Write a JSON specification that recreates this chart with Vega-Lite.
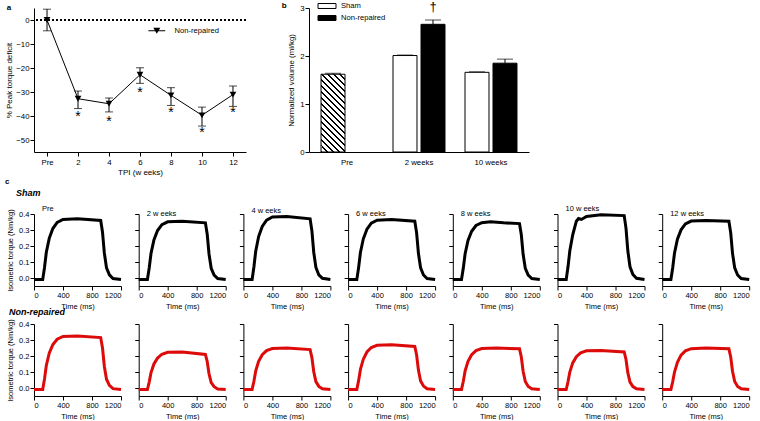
{
"$schema":"https://vega.github.io/schema/vega-lite/v6.json",
"padding":{"left":5,"top":1,"right":0,"bottom":0},
"background":"white",
"config":{
 "font":"Liberation Sans",
 "view":{"stroke":null},
 "axis":{"grid":false,"domainColor":"black","tickColor":"black","labelColor":"black","titleColor":"black","labelFontSize":7.5,"titleFontSize":7.5,"titleFontWeight":"normal","tickSize":4,"labelPadding":1,"titlePadding":4},
 "title":{"color":"black","fontSize":7.5,"fontWeight":"normal","anchor":"start"},
 "legend":{"labelColor":"black","labelFontSize":7.6}
},
"datasets":{"traces":[
{"g":"Sham","p":"Pre","t":0,"v":-0.01},{"g":"Sham","p":"Pre","t":120,"v":-0.01},{"g":"Sham","p":"Pre","t":145,"v":0.066},{"g":"Sham","p":"Pre","t":170,"v":0.161},{"g":"Sham","p":"Pre","t":210,"v":0.248},{"g":"Sham","p":"Pre","t":260,"v":0.309},{"g":"Sham","p":"Pre","t":320,"v":0.347},{"g":"Sham","p":"Pre","t":400,"v":0.366},{"g":"Sham","p":"Pre","t":600,"v":0.37},{"g":"Sham","p":"Pre","t":920,"v":0.36},{"g":"Sham","p":"Pre","t":945,"v":0.286},{"g":"Sham","p":"Pre","t":970,"v":0.157},{"g":"Sham","p":"Pre","t":1000,"v":0.064},{"g":"Sham","p":"Pre","t":1040,"v":0.02},{"g":"Sham","p":"Pre","t":1090,"v":-0.003},{"g":"Sham","p":"Pre","t":1200,"v":-0.01},
{"g":"Sham","p":"2","t":0,"v":-0.01},{"g":"Sham","p":"2","t":120,"v":-0.01},{"g":"Sham","p":"2","t":145,"v":0.063},{"g":"Sham","p":"2","t":170,"v":0.154},{"g":"Sham","p":"2","t":210,"v":0.238},{"g":"Sham","p":"2","t":260,"v":0.297},{"g":"Sham","p":"2","t":320,"v":0.333},{"g":"Sham","p":"2","t":400,"v":0.351},{"g":"Sham","p":"2","t":600,"v":0.355},{"g":"Sham","p":"2","t":920,"v":0.345},{"g":"Sham","p":"2","t":945,"v":0.274},{"g":"Sham","p":"2","t":970,"v":0.15},{"g":"Sham","p":"2","t":1000,"v":0.061},{"g":"Sham","p":"2","t":1040,"v":0.018},{"g":"Sham","p":"2","t":1090,"v":-0.003},{"g":"Sham","p":"2","t":1200,"v":-0.01},
{"g":"Sham","p":"4","t":0,"v":-0.01},{"g":"Sham","p":"4","t":120,"v":-0.01},{"g":"Sham","p":"4","t":145,"v":0.069},{"g":"Sham","p":"4","t":170,"v":0.168},{"g":"Sham","p":"4","t":210,"v":0.259},{"g":"Sham","p":"4","t":260,"v":0.322},{"g":"Sham","p":"4","t":320,"v":0.361},{"g":"Sham","p":"4","t":400,"v":0.381},{"g":"Sham","p":"4","t":600,"v":0.385},{"g":"Sham","p":"4","t":920,"v":0.37},{"g":"Sham","p":"4","t":945,"v":0.294},{"g":"Sham","p":"4","t":970,"v":0.161},{"g":"Sham","p":"4","t":1000,"v":0.066},{"g":"Sham","p":"4","t":1040,"v":0.02},{"g":"Sham","p":"4","t":1090,"v":-0.002},{"g":"Sham","p":"4","t":1200,"v":-0.01},
{"g":"Sham","p":"6","t":0,"v":-0.01},{"g":"Sham","p":"6","t":120,"v":-0.01},{"g":"Sham","p":"6","t":145,"v":0.065},{"g":"Sham","p":"6","t":170,"v":0.159},{"g":"Sham","p":"6","t":210,"v":0.245},{"g":"Sham","p":"6","t":260,"v":0.305},{"g":"Sham","p":"6","t":320,"v":0.343},{"g":"Sham","p":"6","t":400,"v":0.361},{"g":"Sham","p":"6","t":600,"v":0.365},{"g":"Sham","p":"6","t":920,"v":0.355},{"g":"Sham","p":"6","t":945,"v":0.282},{"g":"Sham","p":"6","t":970,"v":0.154},{"g":"Sham","p":"6","t":1000,"v":0.063},{"g":"Sham","p":"6","t":1040,"v":0.019},{"g":"Sham","p":"6","t":1090,"v":-0.003},{"g":"Sham","p":"6","t":1200,"v":-0.01},
{"g":"Sham","p":"8","t":0,"v":-0.01},{"g":"Sham","p":"8","t":120,"v":-0.01},{"g":"Sham","p":"8","t":145,"v":0.062},{"g":"Sham","p":"8","t":170,"v":0.152},{"g":"Sham","p":"8","t":210,"v":0.235},{"g":"Sham","p":"8","t":260,"v":0.292},{"g":"Sham","p":"8","t":320,"v":0.328},{"g":"Sham","p":"8","t":400,"v":0.346},{"g":"Sham","p":"8","t":520,"v":0.352},{"g":"Sham","p":"8","t":700,"v":0.345},{"g":"Sham","p":"8","t":920,"v":0.34},{"g":"Sham","p":"8","t":945,"v":0.27},{"g":"Sham","p":"8","t":970,"v":0.148},{"g":"Sham","p":"8","t":1000,"v":0.06},{"g":"Sham","p":"8","t":1040,"v":0.018},{"g":"Sham","p":"8","t":1090,"v":-0.003},{"g":"Sham","p":"8","t":1200,"v":-0.01},
{"g":"Sham","p":"10","t":0,"v":-0.01},{"g":"Sham","p":"10","t":120,"v":-0.01},{"g":"Sham","p":"10","t":145,"v":0.07},{"g":"Sham","p":"10","t":170,"v":0.17},{"g":"Sham","p":"10","t":210,"v":0.27},{"g":"Sham","p":"10","t":260,"v":0.355},{"g":"Sham","p":"10","t":290,"v":0.372},{"g":"Sham","p":"10","t":330,"v":0.366},{"g":"Sham","p":"10","t":400,"v":0.385},{"g":"Sham","p":"10","t":600,"v":0.395},{"g":"Sham","p":"10","t":920,"v":0.39},{"g":"Sham","p":"10","t":945,"v":0.31},{"g":"Sham","p":"10","t":970,"v":0.17},{"g":"Sham","p":"10","t":1000,"v":0.07},{"g":"Sham","p":"10","t":1040,"v":0.022},{"g":"Sham","p":"10","t":1090,"v":-0.002},{"g":"Sham","p":"10","t":1200,"v":-0.01},
{"g":"Sham","p":"12","t":0,"v":-0.01},{"g":"Sham","p":"12","t":120,"v":-0.01},{"g":"Sham","p":"12","t":145,"v":0.064},{"g":"Sham","p":"12","t":170,"v":0.157},{"g":"Sham","p":"12","t":210,"v":0.242},{"g":"Sham","p":"12","t":260,"v":0.301},{"g":"Sham","p":"12","t":320,"v":0.338},{"g":"Sham","p":"12","t":400,"v":0.356},{"g":"Sham","p":"12","t":600,"v":0.36},{"g":"Sham","p":"12","t":920,"v":0.355},{"g":"Sham","p":"12","t":945,"v":0.282},{"g":"Sham","p":"12","t":970,"v":0.154},{"g":"Sham","p":"12","t":1000,"v":0.063},{"g":"Sham","p":"12","t":1040,"v":0.019},{"g":"Sham","p":"12","t":1090,"v":-0.003},{"g":"Sham","p":"12","t":1200,"v":-0.01},
{"g":"Non-repaired","p":"Pre","t":0,"v":-0.01},{"g":"Non-repaired","p":"Pre","t":120,"v":-0.01},{"g":"Non-repaired","p":"Pre","t":145,"v":0.057},{"g":"Non-repaired","p":"Pre","t":170,"v":0.141},{"g":"Non-repaired","p":"Pre","t":210,"v":0.218},{"g":"Non-repaired","p":"Pre","t":260,"v":0.271},{"g":"Non-repaired","p":"Pre","t":320,"v":0.305},{"g":"Non-repaired","p":"Pre","t":400,"v":0.322},{"g":"Non-repaired","p":"Pre","t":600,"v":0.325},{"g":"Non-repaired","p":"Pre","t":920,"v":0.315},{"g":"Non-repaired","p":"Pre","t":945,"v":0.25},{"g":"Non-repaired","p":"Pre","t":970,"v":0.136},{"g":"Non-repaired","p":"Pre","t":1000,"v":0.055},{"g":"Non-repaired","p":"Pre","t":1040,"v":0.016},{"g":"Non-repaired","p":"Pre","t":1090,"v":-0.004},{"g":"Non-repaired","p":"Pre","t":1200,"v":-0.01},
{"g":"Non-repaired","p":"2","t":0,"v":-0.01},{"g":"Non-repaired","p":"2","t":120,"v":-0.01},{"g":"Non-repaired","p":"2","t":145,"v":0.037},{"g":"Non-repaired","p":"2","t":170,"v":0.096},{"g":"Non-repaired","p":"2","t":210,"v":0.15},{"g":"Non-repaired","p":"2","t":260,"v":0.187},{"g":"Non-repaired","p":"2","t":320,"v":0.211},{"g":"Non-repaired","p":"2","t":400,"v":0.223},{"g":"Non-repaired","p":"2","t":600,"v":0.225},{"g":"Non-repaired","p":"2","t":920,"v":0.21},{"g":"Non-repaired","p":"2","t":945,"v":0.166},{"g":"Non-repaired","p":"2","t":970,"v":0.089},{"g":"Non-repaired","p":"2","t":1000,"v":0.034},{"g":"Non-repaired","p":"2","t":1040,"v":0.008},{"g":"Non-repaired","p":"2","t":1090,"v":-0.006},{"g":"Non-repaired","p":"2","t":1200,"v":-0.01},
{"g":"Non-repaired","p":"4","t":0,"v":-0.01},{"g":"Non-repaired","p":"4","t":120,"v":-0.01},{"g":"Non-repaired","p":"4","t":145,"v":0.042},{"g":"Non-repaired","p":"4","t":170,"v":0.107},{"g":"Non-repaired","p":"4","t":210,"v":0.167},{"g":"Non-repaired","p":"4","t":260,"v":0.208},{"g":"Non-repaired","p":"4","t":320,"v":0.234},{"g":"Non-repaired","p":"4","t":400,"v":0.247},{"g":"Non-repaired","p":"4","t":600,"v":0.25},{"g":"Non-repaired","p":"4","t":920,"v":0.24},{"g":"Non-repaired","p":"4","t":945,"v":0.19},{"g":"Non-repaired","p":"4","t":970,"v":0.103},{"g":"Non-repaired","p":"4","t":1000,"v":0.04},{"g":"Non-repaired","p":"4","t":1040,"v":0.01},{"g":"Non-repaired","p":"4","t":1090,"v":-0.005},{"g":"Non-repaired","p":"4","t":1200,"v":-0.01},
{"g":"Non-repaired","p":"6","t":0,"v":-0.01},{"g":"Non-repaired","p":"6","t":120,"v":-0.01},{"g":"Non-repaired","p":"6","t":145,"v":0.046},{"g":"Non-repaired","p":"6","t":170,"v":0.116},{"g":"Non-repaired","p":"6","t":210,"v":0.18},{"g":"Non-repaired","p":"6","t":260,"v":0.225},{"g":"Non-repaired","p":"6","t":320,"v":0.253},{"g":"Non-repaired","p":"6","t":400,"v":0.267},{"g":"Non-repaired","p":"6","t":600,"v":0.27},{"g":"Non-repaired","p":"6","t":920,"v":0.26},{"g":"Non-repaired","p":"6","t":945,"v":0.206},{"g":"Non-repaired","p":"6","t":970,"v":0.112},{"g":"Non-repaired","p":"6","t":1000,"v":0.044},{"g":"Non-repaired","p":"6","t":1040,"v":0.012},{"g":"Non-repaired","p":"6","t":1090,"v":-0.005},{"g":"Non-repaired","p":"6","t":1200,"v":-0.01},
{"g":"Non-repaired","p":"8","t":0,"v":-0.01},{"g":"Non-repaired","p":"8","t":120,"v":-0.01},{"g":"Non-repaired","p":"8","t":145,"v":0.042},{"g":"Non-repaired","p":"8","t":170,"v":0.107},{"g":"Non-repaired","p":"8","t":210,"v":0.167},{"g":"Non-repaired","p":"8","t":260,"v":0.208},{"g":"Non-repaired","p":"8","t":320,"v":0.234},{"g":"Non-repaired","p":"8","t":400,"v":0.247},{"g":"Non-repaired","p":"8","t":600,"v":0.25},{"g":"Non-repaired","p":"8","t":920,"v":0.245},{"g":"Non-repaired","p":"8","t":945,"v":0.194},{"g":"Non-repaired","p":"8","t":970,"v":0.105},{"g":"Non-repaired","p":"8","t":1000,"v":0.041},{"g":"Non-repaired","p":"8","t":1040,"v":0.01},{"g":"Non-repaired","p":"8","t":1090,"v":-0.005},{"g":"Non-repaired","p":"8","t":1200,"v":-0.01},
{"g":"Non-repaired","p":"10","t":0,"v":-0.01},{"g":"Non-repaired","p":"10","t":120,"v":-0.01},{"g":"Non-repaired","p":"10","t":145,"v":0.039},{"g":"Non-repaired","p":"10","t":170,"v":0.1},{"g":"Non-repaired","p":"10","t":210,"v":0.157},{"g":"Non-repaired","p":"10","t":260,"v":0.196},{"g":"Non-repaired","p":"10","t":320,"v":0.22},{"g":"Non-repaired","p":"10","t":400,"v":0.233},{"g":"Non-repaired","p":"10","t":600,"v":0.235},{"g":"Non-repaired","p":"10","t":920,"v":0.225},{"g":"Non-repaired","p":"10","t":945,"v":0.178},{"g":"Non-repaired","p":"10","t":970,"v":0.096},{"g":"Non-repaired","p":"10","t":1000,"v":0.037},{"g":"Non-repaired","p":"10","t":1040,"v":0.009},{"g":"Non-repaired","p":"10","t":1090,"v":-0.005},{"g":"Non-repaired","p":"10","t":1200,"v":-0.01},
{"g":"Non-repaired","p":"12","t":0,"v":-0.01},{"g":"Non-repaired","p":"12","t":120,"v":-0.01},{"g":"Non-repaired","p":"12","t":145,"v":0.04},{"g":"Non-repaired","p":"12","t":170,"v":0.1},{"g":"Non-repaired","p":"12","t":210,"v":0.16},{"g":"Non-repaired","p":"12","t":260,"v":0.205},{"g":"Non-repaired","p":"12","t":320,"v":0.232},{"g":"Non-repaired","p":"12","t":400,"v":0.246},{"g":"Non-repaired","p":"12","t":600,"v":0.25},{"g":"Non-repaired","p":"12","t":920,"v":0.245},{"g":"Non-repaired","p":"12","t":945,"v":0.194},{"g":"Non-repaired","p":"12","t":970,"v":0.105},{"g":"Non-repaired","p":"12","t":1000,"v":0.041},{"g":"Non-repaired","p":"12","t":1040,"v":0.01},{"g":"Non-repaired","p":"12","t":1090,"v":-0.005},{"g":"Non-repaired","p":"12","t":1200,"v":-0.01}
]},
"spacing":1,
"vconcat":[
{"hconcat":[
 {"width":212,"height":144,
  "title":{"text":"a","fontWeight":"bold","fontSize":8,"frame":"bounds","anchor":"start","offset":-4,"dx":1},
  "data":{"values":[
   {"tpi":"Pre","mean":0,"lo":-4.5,"hi":4.5,"sig":""},
   {"tpi":"2","mean":-32.8,"lo":-36.9,"hi":-29.6,"sig":"*"},
   {"tpi":"4","mean":-34.9,"lo":-38.3,"hi":-32.5,"sig":"*"},
   {"tpi":"6","mean":-22.8,"lo":-26.4,"hi":-19.9,"sig":"*"},
   {"tpi":"8","mean":-31.4,"lo":-35.6,"hi":-28.2,"sig":"*"},
   {"tpi":"10","mean":-39.7,"lo":-44.2,"hi":-36.3,"sig":"*"},
   {"tpi":"12","mean":-31.1,"lo":-36,"hi":-27.5,"sig":"*"}]},
  "layer":[
   {"mark":{"type":"rule","strokeDash":[2,2],"color":"black","strokeWidth":1},
    "encoding":{"y":{"datum":0,"type":"quantitative","scale":{"domain":[-55,5]},"axis":{"values":[0,-10,-20,-30,-40,-50],"title":"% Peak torque deficit","labelFontSize":7.8,"titleFontSize":8,"titlePadding":2}}}},
   {"mark":{"type":"line","color":"black","strokeWidth":1},
    "encoding":{"x":{"field":"tpi","type":"ordinal","sort":["Pre","2","4","6","8","10","12"],"scale":{"type":"point","padding":0.42},"axis":{"title":"TPI (w eeks)","labelAngle":0,"labelFontSize":7.8,"titleFontSize":8,"titlePadding":3,"labelPadding":2}},
     "y":{"field":"mean","type":"quantitative","scale":{"domain":[-55,5]},"axis":{"values":[0,-10,-20,-30,-40,-50],"title":"% Peak torque deficit","labelFontSize":7.8,"titleFontSize":8,"titlePadding":2}}}},
   {"mark":{"type":"rule","color":"black","strokeWidth":1},
    "encoding":{"x":{"field":"tpi","type":"ordinal","sort":["Pre","2","4","6","8","10","12"]},
     "y":{"field":"lo","type":"quantitative","axis":{"values":[0,-10,-20,-30,-40,-50],"title":"% Peak torque deficit","labelFontSize":7.8,"titleFontSize":8,"titlePadding":2}},"y2":{"field":"hi"}}},
   {"mark":{"type":"tick","color":"black","size":8,"thickness":1},
    "encoding":{"x":{"field":"tpi","type":"ordinal","sort":["Pre","2","4","6","8","10","12"]},
     "y":{"field":"lo","type":"quantitative","axis":{"values":[0,-10,-20,-30,-40,-50],"title":"% Peak torque deficit","labelFontSize":7.8,"titleFontSize":8,"titlePadding":2}}}},
   {"mark":{"type":"tick","color":"black","size":8,"thickness":1},
    "encoding":{"x":{"field":"tpi","type":"ordinal","sort":["Pre","2","4","6","8","10","12"]},
     "y":{"field":"hi","type":"quantitative","axis":{"values":[0,-10,-20,-30,-40,-50],"title":"% Peak torque deficit","labelFontSize":7.8,"titleFontSize":8,"titlePadding":2}}}},
   {"mark":{"type":"point","filled":true,"shape":"triangle-down","size":45,"opacity":1},
    "encoding":{"x":{"field":"tpi","type":"ordinal","sort":["Pre","2","4","6","8","10","12"]},
     "y":{"field":"mean","type":"quantitative","axis":{"values":[0,-10,-20,-30,-40,-50],"title":"% Peak torque deficit","labelFontSize":7.8,"titleFontSize":8,"titlePadding":2}},
     "color":{"datum":"Non-repaired","type":"nominal","scale":{"range":["black"]},
      "legend":{"orient":"none","legendX":119,"legendY":19,"title":null,"symbolType":"M-2.4,-0.14H2.4V0.14H-2.4Z M-1,-0.85H1L0,0.85Z","symbolSize":49,"symbolOpacity":1,"labelFontSize":7.6,"labelOffset":14,"symbolStrokeWidth":0}}}},
   {"mark":{"type":"text","fontSize":14,"baseline":"top","dy":11,"fill":"black"},
    "encoding":{"x":{"field":"tpi","type":"ordinal","sort":["Pre","2","4","6","8","10","12"]},
     "y":{"field":"mean","type":"quantitative","axis":{"values":[0,-10,-20,-30,-40,-50],"title":"% Peak torque deficit","labelFontSize":7.8,"titleFontSize":8,"titlePadding":2}},
     "text":{"field":"sig"}}}
  ]},
 {"width":220,"height":144,
  "title":{"text":"b","fontWeight":"bold","fontSize":8,"frame":"bounds","anchor":"start","offset":-9,"dx":-6},
  "data":{"values":[
   {"week":"Pre","group":"Sham","mean":1.62,"hi":1.64,"sig":""},
   {"week":"2 weeks","group":"Sham","mean":2.01,"hi":2.02,"sig":""},
   {"week":"2 weeks","group":"Non-repaired","mean":2.66,"hi":2.75,"sig":"†"},
   {"week":"10 weeks","group":"Sham","mean":1.66,"hi":1.67,"sig":""},
   {"week":"10 weeks","group":"Non-repaired","mean":1.85,"hi":1.935,"sig":""}]},
  "encoding":{
   "x":{"field":"week","type":"nominal","sort":["Pre","2 weeks","10 weeks"],"scale":{"paddingInner":0.278,"paddingOuter":0.167},"axis":{"title":null,"labelAngle":0,"ticks":false,"labelFontSize":7.8,"labelPadding":6}},
   "xOffset":{"field":"group","type":"nominal","sort":["Sham","Non-repaired"],"scale":{"domain":["Sham","Non-repaired"],"paddingInner":0.143,"paddingOuter":0}}
  },
  "layer":[
   {"mark":{"type":"rule","color":"black","strokeWidth":1},
    "encoding":{"y":{"field":"mean","type":"quantitative","scale":{"domain":[0,3]},"axis":{"values":[0,1,2,3],"title":"Normalized  volume (ml/kg)","labelFontSize":7.8,"titleFontSize":7.8}},"y2":{"field":"hi"}}},
   {"mark":{"type":"tick","color":"black","size":16,"thickness":1},
    "encoding":{"y":{"field":"hi","type":"quantitative","axis":{"values":[0,1,2,3],"title":"Normalized  volume (ml/kg)","labelFontSize":7.8,"titleFontSize":7.8}}}},
   {"transform":[{"filter":"datum.week !== 'Pre'"}],
    "mark":{"type":"bar","stroke":"black","strokeWidth":1},
    "encoding":{"y":{"field":"mean","type":"quantitative","axis":{"values":[0,1,2,3],"title":"Normalized  volume (ml/kg)","labelFontSize":7.8,"titleFontSize":7.8}},
     "color":{"field":"group","type":"nominal","scale":{"domain":["Sham","Non-repaired"],"range":["white","black"]},
      "legend":{"orient":"none","legendX":13,"legendY":-7,"title":null,"symbolType":"M-2,-0.55H2V0.55H-2Z","symbolSize":81,"labelFontSize":7.6,"labelOffset":9,"rowPadding":2,"symbolStrokeColor":"black","symbolStrokeWidth":1,"symbolOpacity":1}}}},
   {"transform":[{"filter":"datum.week === 'Pre'"}],
    "mark":{"type":"bar","stroke":"black","strokeWidth":1,
     "fill":{"gradient":"linear","x1":0,"y1":1,"x2":0.371,"y2":-0.194,"stops":[
{"offset":0,"color":"black"},{"offset":0.018,"color":"black"},{"offset":0.018,"color":"white"},{"offset":0.0588,"color":"white"},
{"offset":0.0588,"color":"black"},{"offset":0.0768,"color":"black"},{"offset":0.0768,"color":"white"},{"offset":0.1176,"color":"white"},
{"offset":0.1176,"color":"black"},{"offset":0.1356,"color":"black"},{"offset":0.1356,"color":"white"},{"offset":0.1765,"color":"white"},
{"offset":0.1765,"color":"black"},{"offset":0.1945,"color":"black"},{"offset":0.1945,"color":"white"},{"offset":0.2353,"color":"white"},
{"offset":0.2353,"color":"black"},{"offset":0.2533,"color":"black"},{"offset":0.2533,"color":"white"},{"offset":0.2941,"color":"white"},
{"offset":0.2941,"color":"black"},{"offset":0.3121,"color":"black"},{"offset":0.3121,"color":"white"},{"offset":0.3529,"color":"white"},
{"offset":0.3529,"color":"black"},{"offset":0.3709,"color":"black"},{"offset":0.3709,"color":"white"},{"offset":0.4118,"color":"white"},
{"offset":0.4118,"color":"black"},{"offset":0.4298,"color":"black"},{"offset":0.4298,"color":"white"},{"offset":0.4706,"color":"white"},
{"offset":0.4706,"color":"black"},{"offset":0.4886,"color":"black"},{"offset":0.4886,"color":"white"},{"offset":0.5294,"color":"white"},
{"offset":0.5294,"color":"black"},{"offset":0.5474,"color":"black"},{"offset":0.5474,"color":"white"},{"offset":0.5882,"color":"white"},
{"offset":0.5882,"color":"black"},{"offset":0.6062,"color":"black"},{"offset":0.6062,"color":"white"},{"offset":0.6471,"color":"white"},
{"offset":0.6471,"color":"black"},{"offset":0.6651,"color":"black"},{"offset":0.6651,"color":"white"},{"offset":0.7059,"color":"white"},
{"offset":0.7059,"color":"black"},{"offset":0.7239,"color":"black"},{"offset":0.7239,"color":"white"},{"offset":0.7647,"color":"white"},
{"offset":0.7647,"color":"black"},{"offset":0.7827,"color":"black"},{"offset":0.7827,"color":"white"},{"offset":0.8235,"color":"white"},
{"offset":0.8235,"color":"black"},{"offset":0.8415,"color":"black"},{"offset":0.8415,"color":"white"},{"offset":0.8824,"color":"white"},
{"offset":0.8824,"color":"black"},{"offset":0.9004,"color":"black"},{"offset":0.9004,"color":"white"},{"offset":0.9412,"color":"white"},
{"offset":0.9412,"color":"black"},{"offset":0.9592,"color":"black"},{"offset":0.9592,"color":"white"},{"offset":1,"color":"white"}]}},
    "encoding":{"y":{"field":"mean","type":"quantitative","axis":{"values":[0,1,2,3],"title":"Normalized  volume (ml/kg)","labelFontSize":7.8,"titleFontSize":7.8}}}},
   {"transform":[{"filter":"datum.sig !== ''"}],
    "mark":{"type":"text","fontSize":13,"baseline":"alphabetic","dy":-9,"fill":"black"},
    "encoding":{"y":{"field":"hi","type":"quantitative","axis":{"values":[0,1,2,3],"title":"Normalized  volume (ml/kg)","labelFontSize":7.8,"titleFontSize":7.8}},"text":{"field":"sig"}}}
  ]}
 ],
 "spacing":63,"bounds":"flush",
 "resolve":{"scale":{"color":"independent"},"legend":{"color":"independent"}}
},
{"title":{"text":"c","fontWeight":"bold","fontSize":8,"frame":"group","anchor":"start","dx":-29,"offset":3},
 "spacing":-2,
 "vconcat":[
 {"title":{"text":"Sham","fontStyle":"italic","fontWeight":"bold","fontSize":9,"frame":"group","anchor":"start","dx":-18,"offset":7},
  "spacing":17.7,"bounds":"flush",
  "hconcat":[
   {"width":87,"height":72,"title":{"text":"Pre","frame":"group","dx":8,"offset":-4},"data":{"name":"traces"},"transform":[{"filter":"datum.g==='Sham' && datum.p==='Pre'"}],"mark":{"type":"line","color":"black","strokeWidth":3},"encoding":{"x":{"field":"t","type":"quantitative","scale":{"domain":[0,1200],"nice":false},"axis":{"values":[0,400,800,1200],"format":"d","title":"Time (ms)"}},"y":{"field":"v","type":"quantitative","scale":{"domain":[-0.05,0.4]},"axis":{"values":[0,0.1,0.2,0.3,0.4],"format":".1f","title":"Isometric torque (Nm/kg)","titlePadding":4}}}},
   {"width":87,"height":72,"title":{"text":"2 w eeks","frame":"group","dx":8,"offset":-4},"data":{"name":"traces"},"transform":[{"filter":"datum.g==='Sham' && datum.p==='2'"}],"mark":{"type":"line","color":"black","strokeWidth":3},"encoding":{"x":{"field":"t","type":"quantitative","scale":{"domain":[0,1200],"nice":false},"axis":{"values":[0,400,800,1200],"format":"d","title":"Time (ms)"}},"y":{"field":"v","type":"quantitative","scale":{"domain":[-0.05,0.4]},"axis":{"values":[0,0.1,0.2,0.3,0.4],"labels":false,"title":null}}}},
   {"width":87,"height":72,"title":{"text":"4 w eeks","frame":"group","dx":8,"offset":-4},"data":{"name":"traces"},"transform":[{"filter":"datum.g==='Sham' && datum.p==='4'"}],"mark":{"type":"line","color":"black","strokeWidth":3},"encoding":{"x":{"field":"t","type":"quantitative","scale":{"domain":[0,1200],"nice":false},"axis":{"values":[0,400,800,1200],"format":"d","title":"Time (ms)"}},"y":{"field":"v","type":"quantitative","scale":{"domain":[-0.05,0.4]},"axis":{"values":[0,0.1,0.2,0.3,0.4],"labels":false,"title":null}}}},
   {"width":87,"height":72,"title":{"text":"6 w eeks","frame":"group","dx":8,"offset":-4},"data":{"name":"traces"},"transform":[{"filter":"datum.g==='Sham' && datum.p==='6'"}],"mark":{"type":"line","color":"black","strokeWidth":3},"encoding":{"x":{"field":"t","type":"quantitative","scale":{"domain":[0,1200],"nice":false},"axis":{"values":[0,400,800,1200],"format":"d","title":"Time (ms)"}},"y":{"field":"v","type":"quantitative","scale":{"domain":[-0.05,0.4]},"axis":{"values":[0,0.1,0.2,0.3,0.4],"labels":false,"title":null}}}},
   {"width":87,"height":72,"title":{"text":"8 w eeks","frame":"group","dx":8,"offset":-4},"data":{"name":"traces"},"transform":[{"filter":"datum.g==='Sham' && datum.p==='8'"}],"mark":{"type":"line","color":"black","strokeWidth":3},"encoding":{"x":{"field":"t","type":"quantitative","scale":{"domain":[0,1200],"nice":false},"axis":{"values":[0,400,800,1200],"format":"d","title":"Time (ms)"}},"y":{"field":"v","type":"quantitative","scale":{"domain":[-0.05,0.4]},"axis":{"values":[0,0.1,0.2,0.3,0.4],"labels":false,"title":null}}}},
   {"width":87,"height":72,"title":{"text":"10 w eeks","frame":"group","dx":8,"offset":-4},"data":{"name":"traces"},"transform":[{"filter":"datum.g==='Sham' && datum.p==='10'"}],"mark":{"type":"line","color":"black","strokeWidth":3},"encoding":{"x":{"field":"t","type":"quantitative","scale":{"domain":[0,1200],"nice":false},"axis":{"values":[0,400,800,1200],"format":"d","title":"Time (ms)"}},"y":{"field":"v","type":"quantitative","scale":{"domain":[-0.05,0.4]},"axis":{"values":[0,0.1,0.2,0.3,0.4],"labels":false,"title":null}}}},
   {"width":87,"height":72,"title":{"text":"12 w eeks","frame":"group","dx":8,"offset":-4},"data":{"name":"traces"},"transform":[{"filter":"datum.g==='Sham' && datum.p==='12'"}],"mark":{"type":"line","color":"black","strokeWidth":3},"encoding":{"x":{"field":"t","type":"quantitative","scale":{"domain":[0,1200],"nice":false},"axis":{"values":[0,400,800,1200],"format":"d","title":"Time (ms)"}},"y":{"field":"v","type":"quantitative","scale":{"domain":[-0.05,0.4]},"axis":{"values":[0,0.1,0.2,0.3,0.4],"labels":false,"title":null}}}}
  ]},
 {"title":{"text":"Non-repaired","fontStyle":"italic","fontWeight":"bold","fontSize":9,"frame":"group","anchor":"start","dx":-25,"offset":1.5},
  "spacing":17.7,"bounds":"flush",
  "hconcat":[
   {"width":87,"height":72,"data":{"name":"traces"},"transform":[{"filter":"datum.g==='Non-repaired' && datum.p==='Pre'"}],"mark":{"type":"line","color":"#dd0a0a","strokeWidth":3},"encoding":{"x":{"field":"t","type":"quantitative","scale":{"domain":[0,1200],"nice":false},"axis":{"values":[0,400,800,1200],"format":"d","title":"Time (ms)"}},"y":{"field":"v","type":"quantitative","scale":{"domain":[-0.05,0.4]},"axis":{"values":[0,0.1,0.2,0.3,0.4],"format":".1f","title":"Isometric torque (Nm/kg)","titlePadding":4}}}},
   {"width":87,"height":72,"data":{"name":"traces"},"transform":[{"filter":"datum.g==='Non-repaired' && datum.p==='2'"}],"mark":{"type":"line","color":"#dd0a0a","strokeWidth":3},"encoding":{"x":{"field":"t","type":"quantitative","scale":{"domain":[0,1200],"nice":false},"axis":{"values":[0,400,800,1200],"format":"d","title":"Time (ms)"}},"y":{"field":"v","type":"quantitative","scale":{"domain":[-0.05,0.4]},"axis":{"values":[0,0.1,0.2,0.3,0.4],"labels":false,"title":null}}}},
   {"width":87,"height":72,"data":{"name":"traces"},"transform":[{"filter":"datum.g==='Non-repaired' && datum.p==='4'"}],"mark":{"type":"line","color":"#dd0a0a","strokeWidth":3},"encoding":{"x":{"field":"t","type":"quantitative","scale":{"domain":[0,1200],"nice":false},"axis":{"values":[0,400,800,1200],"format":"d","title":"Time (ms)"}},"y":{"field":"v","type":"quantitative","scale":{"domain":[-0.05,0.4]},"axis":{"values":[0,0.1,0.2,0.3,0.4],"labels":false,"title":null}}}},
   {"width":87,"height":72,"data":{"name":"traces"},"transform":[{"filter":"datum.g==='Non-repaired' && datum.p==='6'"}],"mark":{"type":"line","color":"#dd0a0a","strokeWidth":3},"encoding":{"x":{"field":"t","type":"quantitative","scale":{"domain":[0,1200],"nice":false},"axis":{"values":[0,400,800,1200],"format":"d","title":"Time (ms)"}},"y":{"field":"v","type":"quantitative","scale":{"domain":[-0.05,0.4]},"axis":{"values":[0,0.1,0.2,0.3,0.4],"labels":false,"title":null}}}},
   {"width":87,"height":72,"data":{"name":"traces"},"transform":[{"filter":"datum.g==='Non-repaired' && datum.p==='8'"}],"mark":{"type":"line","color":"#dd0a0a","strokeWidth":3},"encoding":{"x":{"field":"t","type":"quantitative","scale":{"domain":[0,1200],"nice":false},"axis":{"values":[0,400,800,1200],"format":"d","title":"Time (ms)"}},"y":{"field":"v","type":"quantitative","scale":{"domain":[-0.05,0.4]},"axis":{"values":[0,0.1,0.2,0.3,0.4],"labels":false,"title":null}}}},
   {"width":87,"height":72,"data":{"name":"traces"},"transform":[{"filter":"datum.g==='Non-repaired' && datum.p==='10'"}],"mark":{"type":"line","color":"#dd0a0a","strokeWidth":3},"encoding":{"x":{"field":"t","type":"quantitative","scale":{"domain":[0,1200],"nice":false},"axis":{"values":[0,400,800,1200],"format":"d","title":"Time (ms)"}},"y":{"field":"v","type":"quantitative","scale":{"domain":[-0.05,0.4]},"axis":{"values":[0,0.1,0.2,0.3,0.4],"labels":false,"title":null}}}},
   {"width":87,"height":72,"data":{"name":"traces"},"transform":[{"filter":"datum.g==='Non-repaired' && datum.p==='12'"}],"mark":{"type":"line","color":"#dd0a0a","strokeWidth":3},"encoding":{"x":{"field":"t","type":"quantitative","scale":{"domain":[0,1200],"nice":false},"axis":{"values":[0,400,800,1200],"format":"d","title":"Time (ms)"}},"y":{"field":"v","type":"quantitative","scale":{"domain":[-0.05,0.4]},"axis":{"values":[0,0.1,0.2,0.3,0.4],"labels":false,"title":null}}}}
  ]}
 ]}
]
}
